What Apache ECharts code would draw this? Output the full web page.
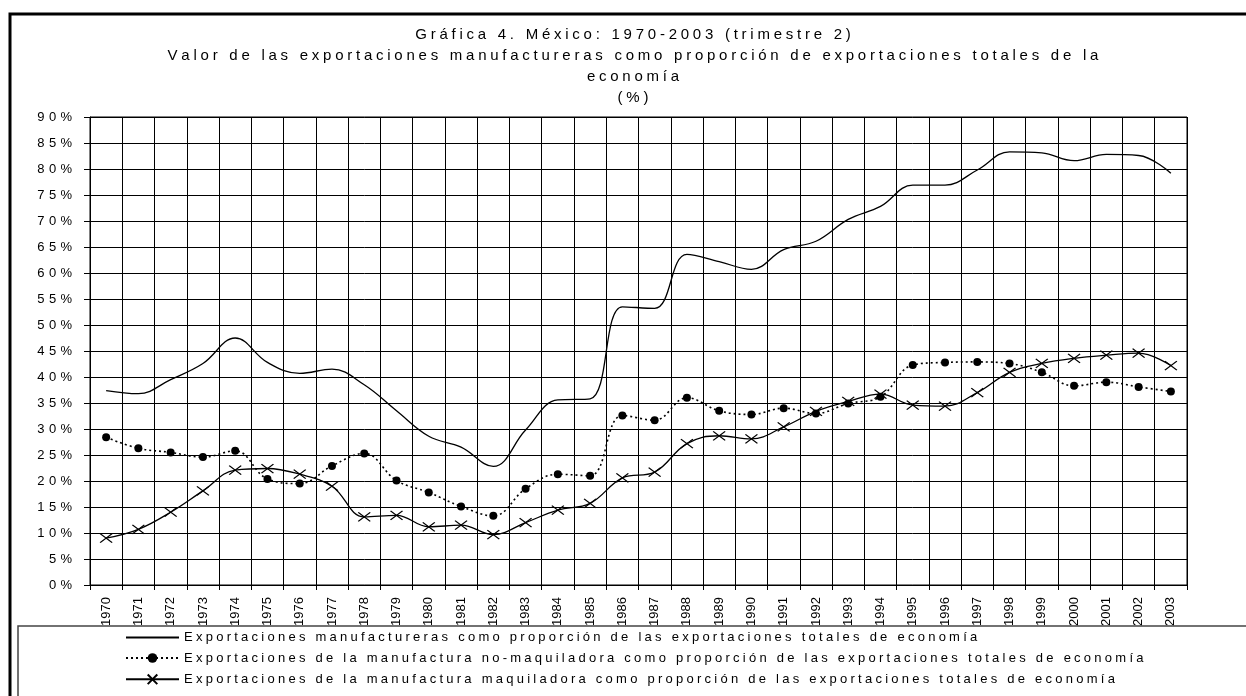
<!DOCTYPE html>
<html>
<head>
<meta charset="utf-8">
<title>Gráfica 4. México: 1970-2003</title>
<script src="https://cdn.jsdelivr.net/npm/echarts@6/dist/echarts.min.js"></script>
<style>
  html, body { margin: 0; padding: 0; background: #fff; }
  #chart { width: 1246px; height: 696px; }
</style>
</head>
<body>
<div id="chart"></div>
<script>
const years = ['1970', '1971', '1972', '1973', '1974', '1975', '1976', '1977', '1978', '1979',
  '1980', '1981', '1982', '1983', '1984', '1985', '1986', '1987', '1988', '1989',
  '1990', '1991', '1992', '1993', '1994', '1995', '1996', '1997', '1998', '1999',
  '2000', '2001', '2002', '2003']

// % de exportaciones totales
const manufTotal = [37.4, 36.8, 39.5, 42.6, 47.5, 42.8, 40.7, 41.5, 38.5, 33.5,
  28.6, 26.5, 22.8, 29.8, 35.6, 35.8, 53.5, 53.2, 63.6, 62.2,
  60.7, 64.5, 66.1, 70.3, 72.8, 76.9, 76.9, 79.8, 83.3, 83.1,
  81.6, 82.8, 82.6, 79.2]

const noMaquila = [28.4, 26.3, 25.5, 24.6, 25.8, 20.4, 19.5, 22.9, 25.3, 20.1,
  17.8, 15.1, 13.3, 18.5, 21.3, 21.0, 32.6, 31.7, 36.0, 33.5,
  32.8, 34.0, 33.0, 34.9, 36.2, 42.3, 42.8, 42.9, 42.6, 40.9,
  38.3, 39.0, 38.1, 37.2]

const maquila = [9.0, 10.7, 14.0, 18.1, 22.1, 22.4, 21.3, 19.0, 13.1, 13.4,
  11.2, 11.5, 9.7, 12.0, 14.4, 15.7, 20.6, 21.7, 27.2, 28.7,
  28.1, 30.4, 33.4, 35.3, 36.7, 34.6, 34.4, 37.0, 40.9, 42.6,
  43.6, 44.2, 44.6, 42.2]

const seriesNames = [
  'Exportaciones manufactureras como proporción de las exportaciones totales de economía',
  'Exportaciones de la manufactura no-maquiladora como proporción de las exportaciones totales de economía',
  'Exportaciones de la manufactura maquiladora como proporción de las exportaciones totales de economía'
]

const titleLines = [
  'Gráfica 4. México: 1970-2003 (trimestre 2)',
  'Valor de las exportaciones manufactureras como proporción de exportaciones totales de la',
  'economía',
  '(%)'
]

// el original tiene texto espaciado
const spaced = function(s, ch) {
  return s.split('').join(ch || '\u2005')
}

const fontFamily = 'Liberation Sans, Arial, sans-serif'

const chart = echarts.init(document.getElementById('chart'))
chart.setOption({
  animation: false,
  textStyle: { fontFamily: fontFamily, color: '#000' },

  graphic: [
    {
      type: 'rect',
      shape: { x: 10, y: 14, width: 1260, height: 720 },
      style: { fill: 'none', stroke: '#000', lineWidth: 3 },
      silent: true
    },
    {
      type: 'rect',
      shape: { x: 18, y: 626, width: 1250, height: 100 },
      style: { fill: 'none', stroke: '#444', lineWidth: 1.5 },
      silent: true
    },
    {
      // titulo
      type: 'text',
      x: 633,
      y: 24,
      silent: true,
      style: {
        text: titleLines.map(l => spaced(l)).join('\n'),
        fontSize: 15,
        fontFamily: fontFamily,
        lineHeight: 21,
        fill: '#000',
        align: 'center',
        verticalAlign: 'top'
      }
    }
  ],

  legend: {
    orient: 'vertical',
    left: 120,
    top: 626,
    itemWidth: 53,
    itemHeight: 12,
    itemGap: 7.5,
    formatter: name => spaced(name),
    textStyle: { fontSize: 13, color: '#000' },
    data: [
      { name: seriesNames[0], itemStyle: { opacity: 0 } },
      { name: seriesNames[1] },
      { name: seriesNames[2] }
    ]
  },

  grid: {
    left: 90,
    right: 59,
    top: 117,
    bottom: 111,
    show: true,
    borderColor: '#000',
    borderWidth: 1
  },

  xAxis: {
    type: 'category',
    data: years,
    boundaryGap: true,
    axisLine: { lineStyle: { color: '#000', width: 1 } },
    axisTick: { show: true, length: 5, lineStyle: { color: '#000' } },
    axisLabel: {
      interval: 0,
      rotate: 90,
      margin: 12,
      fontSize: 13,
      color: '#000'
    },
    splitLine: { show: true, interval: 0, lineStyle: { color: '#000', width: 1 } }
  },

  yAxis: {
    type: 'value',
    min: 0,
    max: 90,
    interval: 5,
    axisLine: { show: true, lineStyle: { color: '#000', width: 1 } },
    axisTick: { show: true, length: 6, lineStyle: { color: '#000' } },
    axisLabel: {
      margin: 18,
      fontSize: 13,
      color: '#000',
      formatter: v => spaced(v + '%', '\u2004')
    },
    splitLine: { show: true, lineStyle: { color: '#000', width: 1 } }
  },

  series: [
    {
      name: seriesNames[0],
      type: 'line',
      data: manufTotal,
      smooth: 0.4,
      symbol: 'none',
      lineStyle: { color: '#000', width: 1.3 },
      itemStyle: { color: '#000' }
    },
    {
      name: seriesNames[1],
      type: 'line',
      data: noMaquila,
      smooth: 0.4,
      symbol: 'circle',
      symbolSize: 8,
      lineStyle: { color: '#000', width: 1.6, type: [2, 3] },
      itemStyle: { color: '#000' }
    },
    {
      name: seriesNames[2],
      type: 'line',
      data: maquila,
      smooth: 0.4,
      symbol: 'path://M0,0L10,8M10,0L0,8',
      symbolSize: [12, 9],
      lineStyle: { color: '#000', width: 1.3 },
      itemStyle: { color: 'none', borderColor: '#000', borderWidth: 1.2 }
    }
  ]
})
</script>
</body>
</html>
